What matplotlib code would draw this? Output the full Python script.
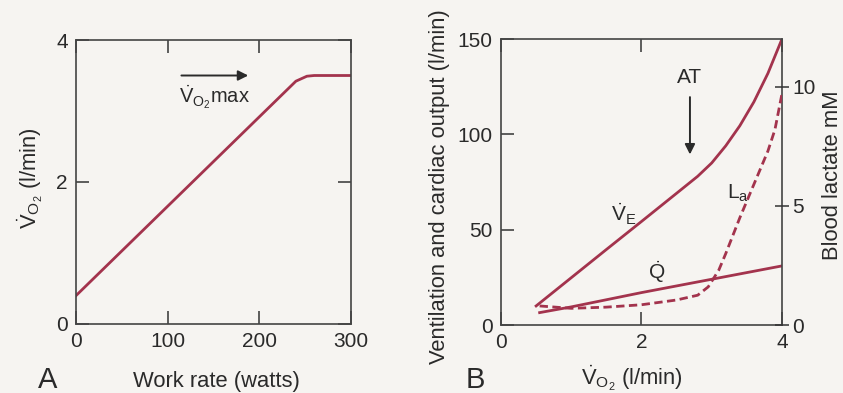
import matplotlib
matplotlib.use("Agg")
import matplotlib.pyplot as plt

plt.rcParams['font.family'] = ['Liberation Sans', 'DejaVu Sans']
plt.rcParams['mathtext.fontset'] = 'custom'
plt.rcParams['mathtext.rm'] = 'Liberation Sans'
plt.rcParams['mathtext.it'] = 'Liberation Sans'

# Panel A: VO2 vs work rate
work = [0, 240, 252, 260, 300]
vo2 = [0.4, 3.42, 3.49, 3.5, 3.5]

# Panel B: ventilation, cardiac output and lactate vs VO2
ve_x = [0.5, 1.0, 1.5, 2.0, 2.5, 2.8, 3.0, 3.2, 3.4, 3.6, 3.8, 4.0]
ve_y = [10, 24.8, 39.6, 54.3, 69.1, 78, 85, 94, 104.5, 117, 132, 150]
q_x = [0.55, 1.0, 2.0, 3.0, 4.0]
q_y = [6.5, 9.5, 17, 24, 31]
la_x = [0.55, 1.0, 1.5, 2.0, 2.5, 2.8, 2.95, 3.1, 3.2, 3.4, 3.6, 3.8, 3.9, 4.0]
la_y = [0.8, 0.7, 0.75, 0.85, 1.05, 1.25, 1.6, 2.3, 3.0, 4.5, 5.9, 7.3, 8.2, 9.7]

red = '#a3334d'
ink = '#2a2a2a'
bg = '#f6f4f1'
fs = 15
lfs = 15.8

fig = plt.figure(figsize=(8.43, 3.93), dpi=100, facecolor=bg)

def style(ax):
    ax.set_facecolor(bg)
    for s in ax.spines.values():
        s.set_color('#444444')
        s.set_linewidth(1.2)
    ax.tick_params(direction='in', length=9.5, width=1.1, color='#333333',
                   labelsize=fs, labelcolor=ink, top=True, pad=6)

# ---- A ----
axa = fig.add_axes([0.0902, 0.1756, 0.326, 0.7226])
style(axa)
axa.plot(work, vo2, color=red, lw=2)
axa.set_xlim(0, 300)
axa.set_ylim(0, 4)
axa.set_xticks([0, 100, 200, 300])
axa.set_yticks([0, 2, 4])
axa.tick_params(right=True)
fig.text(30 / 843, 1 - 178 / 393, r'$\dot{\mathrm{V}}_{\mathrm{O_2}}$ (l/min)', fontsize=lfs,
         color=ink, rotation=90, ha='center', va='center')
axa.annotate('', xy=(191, 3.5), xytext=(112, 3.5),
             arrowprops=dict(arrowstyle='-|>', color=ink, lw=1.4, mutation_scale=15))
axa.text(151, 3.2, r'$\dot{\mathrm{V}}_{\mathrm{O_2}}$max', fontsize=14.5, color=ink,
         ha='center', va='center')
fig.text(216 / 843, 1 - 382 / 393, 'Work rate (watts)', fontsize=lfs, color=ink,
         ha='center', va='center')
fig.text(48 / 843, 1 - 380 / 393, 'A', fontsize=21, color=ink, ha='center', va='center')

# ---- B ----
axb = fig.add_axes([0.5943, 0.173, 0.3333, 0.7277])
style(axb)
axb.plot(ve_x, ve_y, color=red, lw=2)
axb.plot(q_x, q_y, color=red, lw=2)
axb.set_xlim(0, 4)
axb.set_ylim(0, 150)
axb.set_xticks([0, 2, 4])
axb.set_yticks([0, 50, 100, 150])
fig.text(439 / 843, 1 - 187 / 393, 'Ventilation and cardiac output (l/min)', fontsize=lfs,
         color=ink, rotation=90, ha='center', va='center')

axr = axb.twinx()
axr.plot(la_x, la_y, color=red, lw=2, ls=(0, (3, 1.6)))
axr.set_ylim(0, 12)
axr.set_yticks([0, 5, 10])
for s in axr.spines.values():
    s.set_visible(False)
axr.tick_params(direction='inout', length=10, width=1.1, color='#333333',
                labelsize=fs, labelcolor=ink, pad=2.5)
fig.text(833 / 843, 1 - 175 / 393, 'Blood lactate mM', fontsize=lfs,
         color=ink, rotation=90, ha='center', va='center')

axb.text(2.69, 130, 'AT', fontsize=15, color=ink, ha='center', va='center')
axb.annotate('', xy=(2.69, 88), xytext=(2.69, 121),
             arrowprops=dict(arrowstyle='-|>', color=ink, lw=1.4, mutation_scale=15))
axb.text(1.74, 58, r'$\dot{\mathrm{V}}_{\mathrm{E}}$', fontsize=15, color=ink, ha='center', va='center')
axb.text(2.22, 28, r'$\dot{\mathrm{Q}}$', fontsize=15, color=ink, ha='center', va='center')
axb.text(3.38, 69, r'L$_{\mathrm{a}}$', fontsize=15, color=ink, ha='center', va='center')
fig.text(632 / 843, 1 - 378 / 393, r'$\dot{\mathrm{V}}_{\mathrm{O_2}}$ (l/min)', fontsize=lfs,
         color=ink, ha='center', va='center')
fig.text(475 / 843, 1 - 380 / 393, 'B', fontsize=21, color=ink, ha='center', va='center')

fig.savefig('out.png', dpi=100, facecolor=bg)
